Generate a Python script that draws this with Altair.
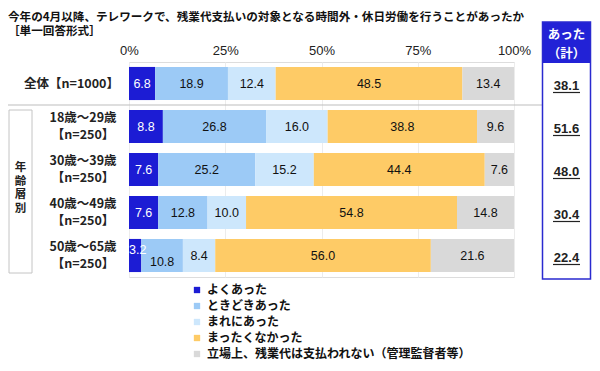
import altair as alt
import pandas as pd

# ---------------- data ----------------
title_line1 = "今年の4月以降、テレワークで、残業代支払いの対象となる時間外・休日労働を行うことがあったか"
title_line2 = "［単一回答形式］"
rows = ["全体【n=1000】", "18歳～29歳\n【n=250】", "30歳～39歳\n【n=250】",
        "40歳～49歳\n【n=250】", "50歳～65歳\n【n=250】"]
categories = ["よくあった", "ときどきあった", "まれにあった", "まったくなかった",
              "立場上、残業代は支払われない（管理監督者等）"]
colors = ["#1c1cd4", "#9ccaf6", "#cde7fc", "#fecb66", "#d9d9d9"]
often = [6.8, 8.8, 7.6, 7.6, 3.2]
sometimes = [18.9, 26.8, 25.2, 12.8, 10.8]
rarely = [12.4, 16.0, 15.2, 10.0, 8.4]
never = [48.5, 38.8, 44.4, 54.8, 56.0]
not_paid = [13.4, 9.6, 7.6, 14.8, 21.6]
total_yes = ["38.1", "51.6", "48.0", "30.4", "22.4"]
tick_values = [0, 25, 50, 75, 100]
group_label = ["年", "齢", "層", "別"]
header_label = ["あった", "（計）"]

# ---------------- table ----------------
series = [often, sometimes, rarely, never, not_paid]
recs = []
for ri, r in enumerate(rows):
    start = 0.0
    prev_small = False
    for ci, c in enumerate(categories):
        v = series[ci][ri]
        small = v < 5
        recs.append(dict(row=r, cat=c, idx=ci, value=v, start=start, end=start + v,
                         mid=start + v / 2, small=small, after_small=prev_small,
                         white=(ci == 0), overall=(ri == 0)))
        prev_small = small
        start += v
df = pd.DataFrame(recs)
rowdf = pd.DataFrame(dict(row=rows, total=total_yes, overall=[i == 0 for i in range(len(rows))]))
dummy = pd.DataFrame({"a": [0]})

JP = "Noto Sans CJK JP"
NUM = "Liberation Sans"

yscale = alt.Scale(domain=rows, paddingInner=0.23, paddingOuter=0.115)
Y = alt.Y("row:N", scale=yscale, axis=None, sort=rows)

bars = alt.Chart(df).mark_bar().encode(
    x=alt.X("start:Q", scale=alt.Scale(domain=[0, 100], nice=False),
            axis=alt.Axis(orient="top", values=tick_values, labelExpr="datum.value + '%'",
                          grid=True, gridColor="#ececec", domain=False, ticks=False,
                          labelFlush=False, labelPadding=5, labelFontSize=13,
                          labelFont=NUM, labelColor="#222222", title=None)),
    x2="end:Q",
    y=Y,
    color=alt.Color("cat:N", scale=alt.Scale(domain=categories, range=colors),
                    legend=alt.Legend(orient="none", legendX=62, legendY=222, title=None,
                                      symbolType="square", symbolSize=40, symbolStrokeWidth=0,
                                      labelFont=JP, labelFontWeight="bold", labelFontSize=12,
                                      labelColor="#111111", rowPadding=4, labelOffset=4,
                                      labelLimit=400)),
    order="idx:Q",
)

def seg_labels(filt, **kw):
    return alt.Chart(df).transform_filter(filt).mark_text(
        font=NUM, fontSize=12.5, **kw
    ).encode(
        x=alt.X("mid:Q"),
        y=Y,
        text=alt.Text("value:Q", format=".1f"),
        color=alt.condition("datum.white", alt.value("white"), alt.value("#111111")),
    )

lab_normal = seg_labels("!datum.small && !datum.after_small")
lab_after = seg_labels("datum.after_small", dy=6.5)
lab_small = alt.Chart(df).transform_filter("datum.small").mark_text(
    font=NUM, fontSize=12.5, align="left", dy=-6, dx=0
).encode(
    x=alt.X("start:Q"), y=Y,
    text=alt.Text("value:Q", format=".1f"),
    color=alt.value("white"),
)

row_overall = alt.Chart(rowdf).transform_filter("datum.overall").mark_text(
    font=JP, fontSize=12.5, fontWeight="bold", align="right", color="#222222"
).encode(x=alt.value(-10), y=Y, text="row:N")

row_age = alt.Chart(rowdf).transform_filter("!datum.overall").mark_text(
    font=JP, fontSize=12.5, fontWeight="bold", align="center", color="#222222",
    lineBreak="\n", lineHeight=17, dy=-8.5
).encode(x=alt.value(-46), y=Y, text="row:N")

totals = alt.Chart(rowdf).mark_text(
    font=NUM, fontSize=13, fontWeight="bold", color="#222222", dy=2
).encode(x=alt.value(437.5), y=Y, text="total:N")

underline = alt.Chart(rowdf).mark_rule(color="#222222", strokeWidth=1.2, yOffset=9).encode(
    x=alt.value(424), x2=alt.value(451), y=Y
)

# decorations
sep = alt.Chart(dummy).mark_rule(color="#bdbdbd", strokeWidth=1).encode(
    x=alt.value(-121), x2=alt.value(413), y=alt.value(43))
group_box = alt.Chart(dummy).mark_rect(fill="white", stroke="#c4c4c4", strokeWidth=1).encode(
    x=alt.value(-120), x2=alt.value(-97), y=alt.value(48), y2=alt.value(211))
group_txt = alt.Chart(dummy).mark_text(
    font=JP, fontSize=11.5, fontWeight="bold", color="#222222", lineHeight=13.5, baseline="middle"
).encode(x=alt.value(-108.5), y=alt.value(106), text=alt.value(group_label))
header_rect = alt.Chart(dummy).mark_rect(fill="#2222d6").encode(
    x=alt.value(413), x2=alt.value(462), y=alt.value(-40), y2=alt.value(1))
outline = alt.Chart(dummy).mark_rect(fill=None, stroke="#2a2ad0", strokeWidth=1.5).encode(
    x=alt.value(413.5), x2=alt.value(461.5), y=alt.value(-40), y2=alt.value(217))
header_txt = alt.Chart(dummy).mark_text(
    font=JP, fontSize=12.5, fontWeight="bold", color="white", lineHeight=18.5, baseline="middle"
).encode(x=alt.value(437.5), y=alt.value(-27), text=alt.value(header_label))
t1 = alt.Chart(dummy).mark_text(
    font=JP, fontSize=11.6, fontWeight="bold", color="#111111", align="left", baseline="middle"
).encode(x=alt.value(-121), y=alt.value(-44), text=alt.value(title_line1))
t2 = alt.Chart(dummy).mark_text(
    font=JP, fontSize=11.6, fontWeight="bold", color="#111111", align="left", baseline="middle"
).encode(x=alt.value(-121), y=alt.value(-30), text=alt.value(title_line2))

chart = alt.layer(
    sep, group_box, group_txt, bars, lab_normal, lab_after, lab_small,
    row_overall, row_age, header_rect, outline, header_txt, totals, underline, t1, t2
).properties(
    width=385, height=215,
    autosize=alt.AutoSizeParams(type="none"),
    padding={"left": 121, "top": 54, "right": 78, "bottom": 86},
).configure_view(stroke=None).configure(background="white")

chart.save("out.html", embed_options={"renderer": "svg", "actions": False})
